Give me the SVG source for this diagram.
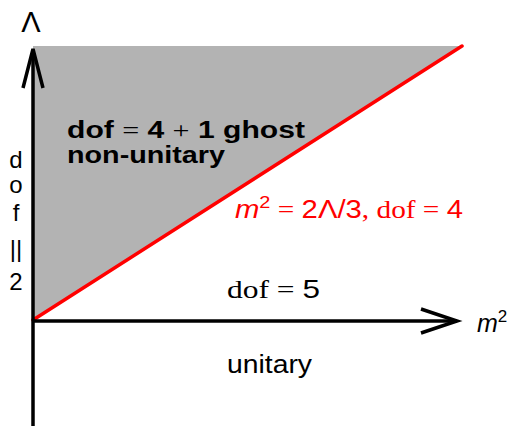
<svg xmlns="http://www.w3.org/2000/svg" width="514" height="427" viewBox="0 0 514 427">
<style>
.s{font-family:"Liberation Sans",Arial,sans-serif;}
.r{font-family:"Liberation Serif","Times New Roman",serif;}
.ax{stroke:#000;stroke-width:3.5;fill:none;}
</style>
<rect width="514" height="427" fill="#fff"/>
<g id="region-ghost">
<polygon points="33,320 33,46 462,46" fill="#b3b3b3"/>
</g>
<g id="connectors">
<line id="boundary" x1="33" y1="320" x2="462" y2="46" stroke="#ff0000" stroke-width="3.5" stroke-linecap="round"/>
<line class="ax" x1="33" y1="426" x2="33" y2="50"/>
<polyline class="ax" points="23,88 33,49 43,88"/>
<line class="ax" x1="33" y1="321" x2="455" y2="321"/>
<polyline class="ax" points="421,309 457,321 421,333"/>
</g>
<g id="label-lambda"><text class="s" x="31" y="32" font-size="29" text-anchor="middle">Λ</text></g>
<g id="label-m2"><text class="s" x="477" y="332" font-size="25" font-style="italic">m<tspan font-size="17" dy="-10" font-style="normal">2</tspan></text></g>
<g id="label-dof2" class="s" font-size="24" text-anchor="middle">
<text x="16" y="168">d</text>
<text x="16" y="193">o</text>
<text x="16" y="221">f</text>
<text x="16" y="257">||</text>
<text x="16" y="290">2</text>
</g>
<g id="label-ghost" class="s" font-size="23" font-weight="bold">
<text x="67" y="138" textLength="238" lengthAdjust="spacingAndGlyphs">dof <tspan font-weight="normal" class="r">=</tspan> 4 <tspan font-weight="normal" class="r">+</tspan> 1 ghost</text>
<text x="67" y="163" textLength="158" lengthAdjust="spacingAndGlyphs">non-unitary</text>
</g>
<g id="label-boundary" fill="#ff0000" font-size="25">
<text x="235" y="218" textLength="228" lengthAdjust="spacingAndGlyphs"><tspan class="s" font-style="italic">m</tspan><tspan class="s" font-size="17" dy="-10">2</tspan><tspan class="r" dy="10"> = </tspan><tspan class="s">2Λ/3</tspan><tspan class="r">, dof = </tspan><tspan class="s">4</tspan></text>
</g>
<g id="label-dof5" font-size="25">
<text x="227" y="298" textLength="93" lengthAdjust="spacingAndGlyphs"><tspan class="r">dof = </tspan><tspan class="s">5</tspan></text>
</g>
<g id="label-unitary"><text class="s" x="227" y="373" font-size="25" textLength="85" lengthAdjust="spacingAndGlyphs">unitary</text></g>
</svg>
